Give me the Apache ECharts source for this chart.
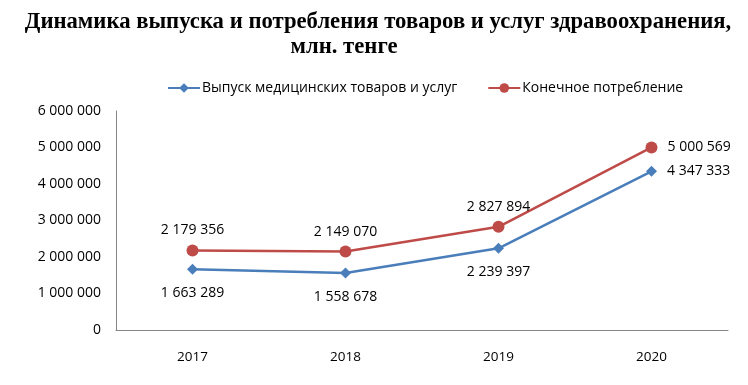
<!DOCTYPE html>
<html><head><meta charset="utf-8">
<script src="https://cdn.jsdelivr.net/npm/echarts@6/dist/echarts.min.js"></script>
<style>html,body{margin:0;padding:0;background:#fff}#c{width:748px;height:385px}</style>
</head><body><div id="c"></div>
<script>
const categories = ['2017', '2018', '2019', '2020'];
const outputValues = [1663289, 1558678, 2239397, 4347333];
const consumptionValues = [2179356, 2149070, 2827894, 5000569];
const seriesNames = ['Выпуск медицинских товаров и услуг', 'Конечное потребление'];
const titleLines = ['Динамика выпуска и потребления товаров и услуг здравоохранения,', 'млн. тенге'];
const yTicks = { min: 0, max: 6000000, interval: 1000000 };

function fmt(v) { return String(v).replace(/\B(?=(\d{3})+(?!\d))/g, ' '); }

const chart = echarts.init(document.getElementById('c'));
const ff = 'Open Sans, Liberation Sans, sans-serif';
const titleStyle = { fontFamily: 'Liberation Serif, serif', fontWeight: 'bold', fontSize: 22.7, color: '#000' };

function withLast(values, lastPos) {
  return values.map((v, i) => i === values.length - 1
    ? { value: v, label: { position: lastPos, distance: 10 } }
    : v);
}

chart.setOption({
  animation: false,
  title: [
    { text: titleLines[0], left: 373, top: 6, textAlign: 'center', textStyle: titleStyle },
    { text: titleLines[1], left: 339, top: 31, textAlign: 'center', textStyle: titleStyle }
  ],
  legend: {
    top: 76, left: 162, itemGap: 30, itemWidth: 32, itemHeight: 12,
    textStyle: { fontFamily: ff, fontSize: 14, color: '#000', padding: [0, 0, 0, -3] },
    data: [seriesNames[0], seriesNames[1]]
  },
  grid: { left: 116, right: 20, top: 111, bottom: 55, containLabel: false },
  xAxis: {
    type: 'category', data: categories, boundaryGap: true,
    axisLine: { lineStyle: { color: '#868686' } }, axisTick: { show: false },
    axisLabel: { margin: 20, fontFamily: ff, fontSize: 13.5, color: '#000' }
  },
  yAxis: {
    type: 'value', min: yTicks.min, max: yTicks.max, interval: yTicks.interval,
    splitLine: { show: false },
    axisLine: { show: true, lineStyle: { color: '#868686' } }, axisTick: { show: false },
    axisLabel: { margin: 15, formatter: fmt, fontFamily: ff, fontSize: 14, color: '#000' }
  },
  series: [
    {
      name: seriesNames[0], type: 'line', data: withLast(outputValues, 'right'),
      symbol: 'diamond', symbolSize: 11,
      itemStyle: { color: '#4A7EBB' }, lineStyle: { color: '#4A7EBB', width: 2.5 },
      label: {
        show: true, formatter: p => fmt(p.value), position: 'bottom', distance: 11,
        fontFamily: ff, fontSize: 14, color: '#000'
      }
    },
    {
      name: seriesNames[1], type: 'line', data: withLast(consumptionValues, 'right'),
      symbol: 'circle', symbolSize: 12,
      itemStyle: { color: '#BE4B48' }, lineStyle: { color: '#BE4B48', width: 2.5 },
      label: {
        show: true, formatter: p => fmt(p.value), position: 'top', distance: 7,
        fontFamily: ff, fontSize: 14, color: '#000'
      }
    }
  ]
});
</script></body></html>
